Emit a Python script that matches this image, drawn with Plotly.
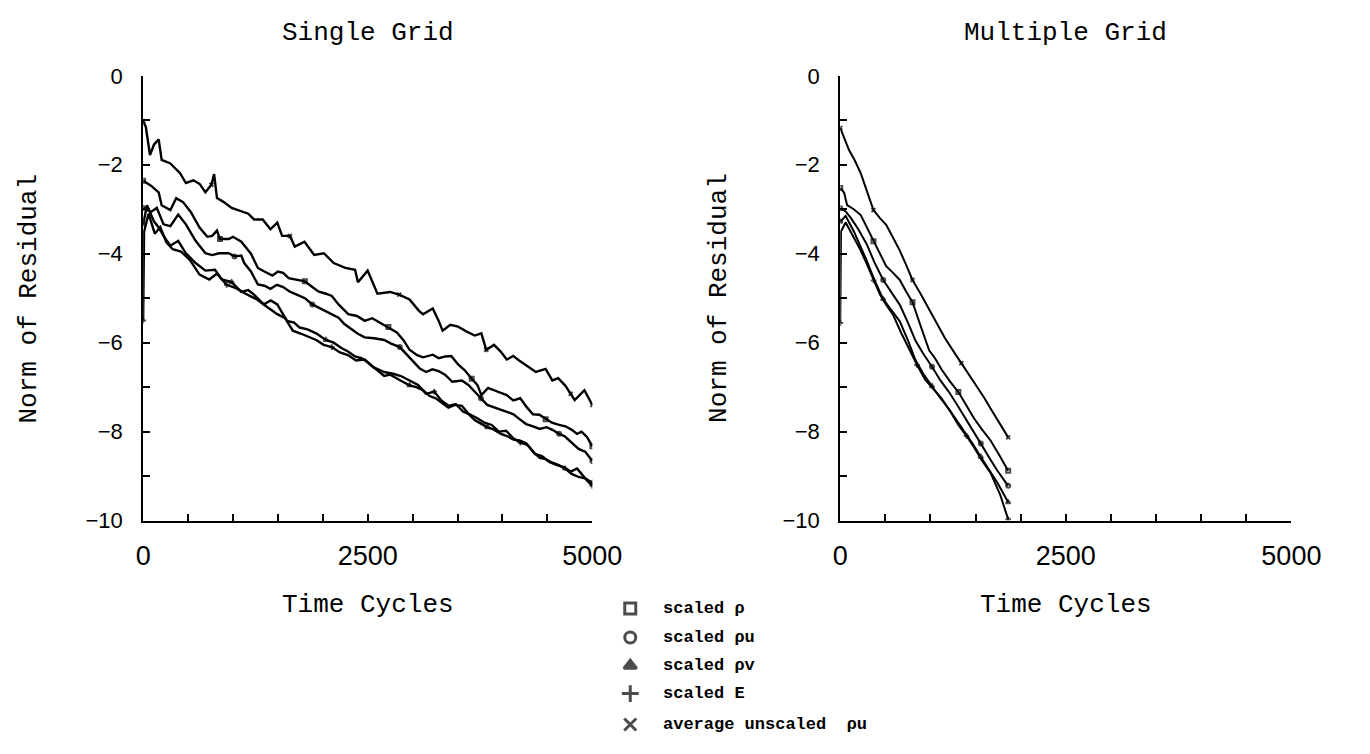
import plotly.graph_objects as go

# ---------------- data ----------------
SERIES_NAMES = ["scaled ρ", "scaled ρu", "scaled ρv", "scaled E", "average unscaled  ρu"]
SERIES_SYMBOLS = ["square-open", "circle-open", "triangle-up", "cross-thin-open", "x-thin-open"]

# Single grid
sg_avg_x = [0, 30, 76, 120, 173, 206, 303, 411, 476, 560, 628, 693, 760, 790, 822, 898, 985, 1093, 1170, 1234,
            1331, 1417, 1493, 1547, 1634, 1688, 1796, 1904, 2012, 2121, 2251, 2359, 2391, 2499, 2608, 2748, 2850, 2965, 3073, 3116,
            3224, 3290, 3333, 3420, 3506, 3600, 3690, 3765, 3819, 3906, 3980, 4047, 4120, 4198, 4290, 4371, 4480, 4555, 4620, 4696,
            4760, 4804, 4912, 5000]
sg_avg_y = [-1.02, -1.15, -1.78, -1.55, -1.43, -1.89, -1.97, -2.19, -2.41, -2.35, -2.43, -2.62, -2.45, -2.21, -2.75, -2.84, -2.97, -3.04, -3.10, -3.23,
            -3.23, -3.45, -3.30, -3.60, -3.60, -3.84, -3.73, -4.03, -3.99, -4.21, -4.32, -4.36, -4.64, -4.38, -4.90, -4.86, -4.92, -5.03, -5.29, -5.36,
            -5.23, -5.51, -5.73, -5.60, -5.64, -5.75, -5.84, -5.79, -6.16, -6.05, -6.20, -6.38, -6.30, -6.42, -6.55, -6.66, -6.59, -6.85, -6.80, -6.96,
            -7.15, -7.29, -7.07, -7.40]

sg_rho_x = [0, 87, 173, 206, 303, 368, 444, 530, 628, 714, 768, 822, 855, 952, 1000, 1093, 1200, 1277, 1350, 1439,
            1500, 1558, 1620, 1710, 1800, 1883, 1950, 2034, 2100, 2175, 2230, 2283, 2380, 2467, 2550, 2640, 2730, 2824, 2900, 2965,
            3050, 3116, 3224, 3290, 3365, 3430, 3506, 3580, 3657, 3720, 3765, 3840, 3906, 3980, 4047, 4120, 4198, 4270, 4339, 4410,
            4480, 4550, 4631, 4700, 4772, 4830, 4880, 4940, 5000]
sg_rho_y = [-2.36, -2.47, -2.62, -2.91, -3.02, -2.75, -2.84, -3.06, -3.41, -3.62, -3.60, -3.48, -3.67, -3.67, -3.62, -3.73, -4.00, -4.32, -4.40, -4.49,
            -4.40, -4.43, -4.55, -4.58, -4.62, -4.75, -4.85, -4.90, -4.95, -5.14, -5.25, -5.36, -5.40, -5.51, -5.45, -5.55, -5.65, -5.77, -5.95, -6.16,
            -6.28, -6.33, -6.27, -6.35, -6.31, -6.30, -6.49, -6.62, -6.81, -6.95, -7.18, -7.02, -7.07, -7.12, -7.18, -7.30, -7.25, -7.45, -7.61, -7.62,
            -7.72, -7.80, -7.85, -7.88, -7.96, -8.05, -8.00, -8.12, -8.33]

sg_rhou_x = [0, 87, 152, 227, 303, 390, 476, 584, 693, 768, 844, 952, 1017, 1093, 1125, 1200, 1277, 1350, 1417, 1490,
             1558, 1630, 1710, 1800, 1883, 1960, 2034, 2100, 2175, 2240, 2315, 2390, 2467, 2570, 2683, 2760, 2857, 2930, 3008, 3080,
             3149, 3220, 3290, 3360, 3441, 3549, 3620, 3690, 3760, 3830, 3900, 3982, 4050, 4122, 4190, 4263, 4340, 4415, 4490, 4555,
             4630, 4696, 4770, 4847, 4920, 5000]
sg_rhou_y = [-2.97, -3.06, -2.97, -3.34, -3.38, -3.12, -3.34, -3.71, -3.99, -4.03, -3.99, -3.99, -4.06, -4.04, -4.21, -4.40, -4.69, -4.72, -4.79, -4.70,
             -4.75, -4.85, -4.92, -5.00, -5.14, -5.22, -5.29, -5.35, -5.44, -5.58, -5.68, -5.80, -5.88, -5.90, -5.94, -6.02, -6.10, -6.25, -6.42, -6.58,
             -6.66, -6.60, -6.64, -6.72, -6.88, -6.85, -6.95, -7.09, -7.25, -7.40, -7.45, -7.51, -7.55, -7.61, -7.72, -7.83, -7.88, -7.94, -7.90, -7.96,
             -8.05, -8.11, -8.25, -8.39, -8.45, -8.66]

sg_rhov_x = [0, 43, 119, 173, 227, 303, 390, 476, 584, 693, 800, 876, 985, 1093, 1170, 1234, 1342, 1420, 1493, 1601,
             1680, 1742, 1830, 1926, 2034, 2120, 2207, 2280, 2359, 2430, 2499, 2590, 2683, 2750, 2824, 2890, 2965, 3040, 3116, 3190,
             3257, 3330, 3398, 3470, 3549, 3620, 3690, 3760, 3830, 3900, 3982, 4050, 4122, 4190, 4263, 4340, 4415, 4480, 4555, 4620,
             4696, 4770, 4847, 4920, 5000]
sg_rhov_y = [-3.34, -2.91, -3.27, -3.41, -3.60, -3.82, -3.71, -3.99, -4.21, -4.38, -4.36, -4.58, -4.64, -4.86, -4.82, -4.92, -5.14, -5.05, -5.14, -5.51,
             -5.55, -5.66, -5.70, -5.79, -5.94, -6.00, -6.12, -6.20, -6.31, -6.35, -6.44, -6.60, -6.75, -6.72, -6.81, -6.88, -6.96, -7.00, -7.07, -7.20,
             -7.25, -7.35, -7.46, -7.40, -7.42, -7.60, -7.74, -7.82, -7.90, -7.95, -8.05, -8.10, -8.18, -8.20, -8.26, -8.45, -8.59, -8.62, -8.70, -8.75,
             -8.83, -8.95, -9.02, -9.05, -9.15]

sg_e_x = [0, 10, 60, 130, 190, 260, 330, 420, 520, 628, 736, 820, 930, 1040, 1140, 1260, 1380, 1493, 1580, 1666,
          1760, 1860, 1926, 2010, 2100, 2190, 2280, 2370, 2467, 2560, 2683, 2780, 2870, 2965, 3060, 3150, 3240, 3320, 3400, 3480,
          3560, 3640, 3720, 3800, 3880, 3960, 4040, 4120, 4200, 4280, 4360, 4440, 4520, 4600, 4680, 4760, 4830, 4880, 4940, 5000]
sg_e_y = [-5.50, -3.51, -3.10, -3.55, -3.40, -3.75, -3.90, -3.95, -4.14, -4.47, -4.58, -4.45, -4.70, -4.78, -4.90, -5.02, -5.20, -5.36, -5.45, -5.73,
          -5.80, -5.88, -5.94, -6.05, -6.10, -6.22, -6.28, -6.40, -6.38, -6.55, -6.66, -6.70, -6.75, -6.85, -6.95, -7.15, -7.10, -7.30, -7.42, -7.38,
          -7.55, -7.62, -7.70, -7.80, -7.85, -8.00, -7.98, -8.15, -8.25, -8.30, -8.50, -8.55, -8.68, -8.75, -8.80, -8.90, -8.83, -8.95, -9.10, -9.22]

# Multiple grid
mg_avg_x = [0, 50, 97, 160, 227, 300, 368, 440, 509, 580, 660, 730, 801, 890, 985, 1070, 1158, 1250, 1342, 1420, 1504, 1590, 1666, 1760, 1861]
mg_avg_y = [-1.17, -1.45, -1.67, -1.90, -2.19, -2.62, -3.02, -3.20, -3.35, -3.62, -3.93, -4.25, -4.59, -4.90, -5.24, -5.55, -5.89, -6.18, -6.46, -6.72, -6.98, -7.22, -7.48, -7.80, -8.13]

mg_rho_x = [0, 43, 76, 150, 227, 300, 368, 440, 509, 580, 660, 730, 801, 890, 985, 1050, 1125, 1220, 1309, 1400, 1482, 1570, 1666, 1760, 1861]
mg_rho_y = [-2.52, -2.63, -2.91, -3.00, -3.13, -3.42, -3.72, -4.00, -4.28, -4.42, -4.59, -4.85, -5.09, -5.62, -6.17, -6.35, -6.61, -6.88, -7.11, -7.42, -7.70, -7.95, -8.20, -8.52, -8.88]

mg_rhou_x = [0, 60, 119, 200, 292, 380, 476, 560, 660, 750, 833, 920, 1017, 1110, 1201, 1290, 1374, 1470, 1558, 1650, 1742, 1861]
mg_rhou_y = [-2.98, -3.05, -3.20, -3.45, -3.78, -4.20, -4.59, -4.85, -5.15, -5.55, -5.95, -6.25, -6.54, -6.85, -7.10, -7.38, -7.65, -7.98, -8.27, -8.58, -8.88, -9.22]

mg_rhov_x = [0, 60, 151, 220, 292, 380, 476, 560, 660, 750, 833, 920, 1017, 1110, 1201, 1290, 1374, 1470, 1558, 1650, 1742, 1861]
mg_rhov_y = [-3.28, -3.15, -3.50, -3.80, -4.15, -4.60, -5.02, -5.25, -5.52, -5.95, -6.39, -6.70, -6.98, -7.25, -7.48, -7.75, -7.98, -8.28, -8.57, -8.85, -9.15, -9.59]

mg_e_x = [0, 8, 60, 151, 220, 292, 370, 443, 510, 584, 680, 768, 850, 941, 1030, 1125, 1220, 1309, 1400, 1482, 1570, 1666, 1774, 1861]
mg_e_y = [-5.56, -3.50, -3.30, -3.63, -3.90, -4.22, -4.60, -4.93, -5.15, -5.37, -5.80, -6.17, -6.50, -6.83, -7.05, -7.26, -7.55, -7.85, -8.10, -8.35, -8.65, -8.93, -9.43, -9.97]

Y_TICK_VALS = [0, -2, -4, -6, -8, -10]
Y_TICK_TEXT = ["0", "\u22122", "\u22124", "\u22126", "\u22128", "\u221210"]
X_TICK_VALS = [0, 2500, 5000]
X_TICK_TEXT = ["0", "2500", "5000"]

TITLES = ["Single Grid", "Multiple Grid"]
Y_TITLE = "Norm of Residual"
X_TITLE = "Time Cycles"

# ---------------- figure ----------------
W, H = 1370, 754
def fx(p): return p / W
def fy(p): return 1 - p / H

MONO = "Liberation Mono, Courier New, monospace"
SANS = "Liberation Sans Narrow, Liberation Sans, Arial, sans-serif"

fig = go.Figure()

sg = [(sg_rho_x, sg_rho_y), (sg_rhou_x, sg_rhou_y), (sg_rhov_x, sg_rhov_y), (sg_e_x, sg_e_y), (sg_avg_x, sg_avg_y)]
mg = [(mg_rho_x, mg_rho_y), (mg_rhou_x, mg_rhou_y), (mg_rhov_x, mg_rhov_y), (mg_e_x, mg_e_y), (mg_avg_x, mg_avg_y)]

def add_series(data, xa, ya, width, step):
    for k, (xs, ys) in enumerate(data):
        sizes = [4 if (i % step == 0 or i == len(xs) - 1) else 0 for i in range(len(xs))]
        fig.add_trace(go.Scatter(
            x=xs, y=ys, xaxis=xa, yaxis=ya, mode="lines+markers",
            line=dict(color="black", width=width),
            marker=dict(symbol=SERIES_SYMBOLS[k], size=sizes, color="black", line=dict(color="black", width=2)),
            showlegend=False, hoverinfo="skip", name=SERIES_NAMES[k]))

add_series(sg, "x", "y", 2.4, 12)
add_series(mg, "x2", "y2", 2.0, 6)

axis_common = dict(showline=True, linecolor="black", linewidth=2, showgrid=False, zeroline=False,
                   ticks="inside", ticklen=7, tickwidth=2, tickcolor="black", mirror=False)

yax = dict(axis_common, range=[-10, 0], tickvals=Y_TICK_VALS, ticktext=Y_TICK_TEXT,
           tickfont=dict(family=SANS, size=22, color="black"), ticklabelstandoff=14,
           minor=dict(dtick=1, tick0=0, ticks="inside", ticklen=7, tickwidth=2, tickcolor="black", showgrid=False))
xax = dict(axis_common, range=[0, 5000], tickvals=X_TICK_VALS, ticktext=X_TICK_TEXT,
           tickfont=dict(family=SANS, size=27, color="black"), ticklabelstandoff=10,
           minor=dict(dtick=500, tick0=0, ticks="inside", ticklen=7, tickwidth=2, tickcolor="black", showgrid=False))

top, bottom = fy(66), fy(526)
fig.update_layout(
    width=W, height=H, margin=dict(l=0, r=0, t=0, b=0),
    paper_bgcolor="white", plot_bgcolor="rgba(0,0,0,0)",
    xaxis=dict(xax, domain=[fx(139), fx(601)], anchor="y"),
    yaxis=dict(yax, domain=[bottom, top], anchor="x"),
    xaxis2=dict(xax, domain=[fx(856), fx(1320)], anchor="y2"),
    yaxis2=dict(yax, domain=[bottom, top], anchor="x2"),
    xaxis3=dict(domain=[0.44, 0.70], range=[0, 1], visible=False, anchor="y3"),
    yaxis3=dict(domain=[0.0, 0.22], range=[0, 1], visible=False, anchor="x3"),
    showlegend=False,
)

ann = []
title_font = dict(family=MONO, size=26, color="black")
for t, cx in zip(TITLES, [370, 1088]):
    ann.append(dict(text=t, x=fx(cx), y=fy(22), xref="paper", yref="paper", showarrow=False,
                    xanchor="center", yanchor="middle", font=title_font))
for cx in [370, 1088]:
    ann.append(dict(text=X_TITLE, x=fx(cx), y=fy(613), xref="paper", yref="paper", showarrow=False,
                    xanchor="center", yanchor="middle", font=title_font))
for cx in [22, 731]:
    ann.append(dict(text=Y_TITLE, x=fx(cx), y=fy(296), xref="paper", yref="paper", showarrow=False,
                    textangle=-90, xanchor="center", yanchor="middle", font=title_font))

# legend block (positions inside the small legend axes box)
x3_lo, x3_hi = 0.44 * W, 0.70 * W
y3_top, y3_bot = (1 - 0.22) * H, H
def lx(p): return (p - x3_lo) / (x3_hi - x3_lo)
def ly(p): return (y3_bot - p) / (y3_bot - y3_top)

row_y = [617, 647, 676, 705, 737]
fig.add_trace(go.Scatter(
    x=[lx(640)] * len(SERIES_NAMES), y=[ly(r) for r in row_y], xaxis="x3", yaxis="y3",
    mode="markers", marker=dict(symbol=SERIES_SYMBOLS, size=[11, 11, 11, 12, 12], color="black",
                                line=dict(color="black", width=3)),
    showlegend=False, hoverinfo="skip"))
for name, r in zip(SERIES_NAMES, row_y):
    ann.append(dict(text=name, x=fx(672), y=fy(r), xref="paper", yref="paper", showarrow=False,
                    xanchor="left", yanchor="middle",
                    font=dict(family=MONO, size=17, color="black", weight="bold")))

fig.update_layout(annotations=ann)
fig.write_html("out.html")
